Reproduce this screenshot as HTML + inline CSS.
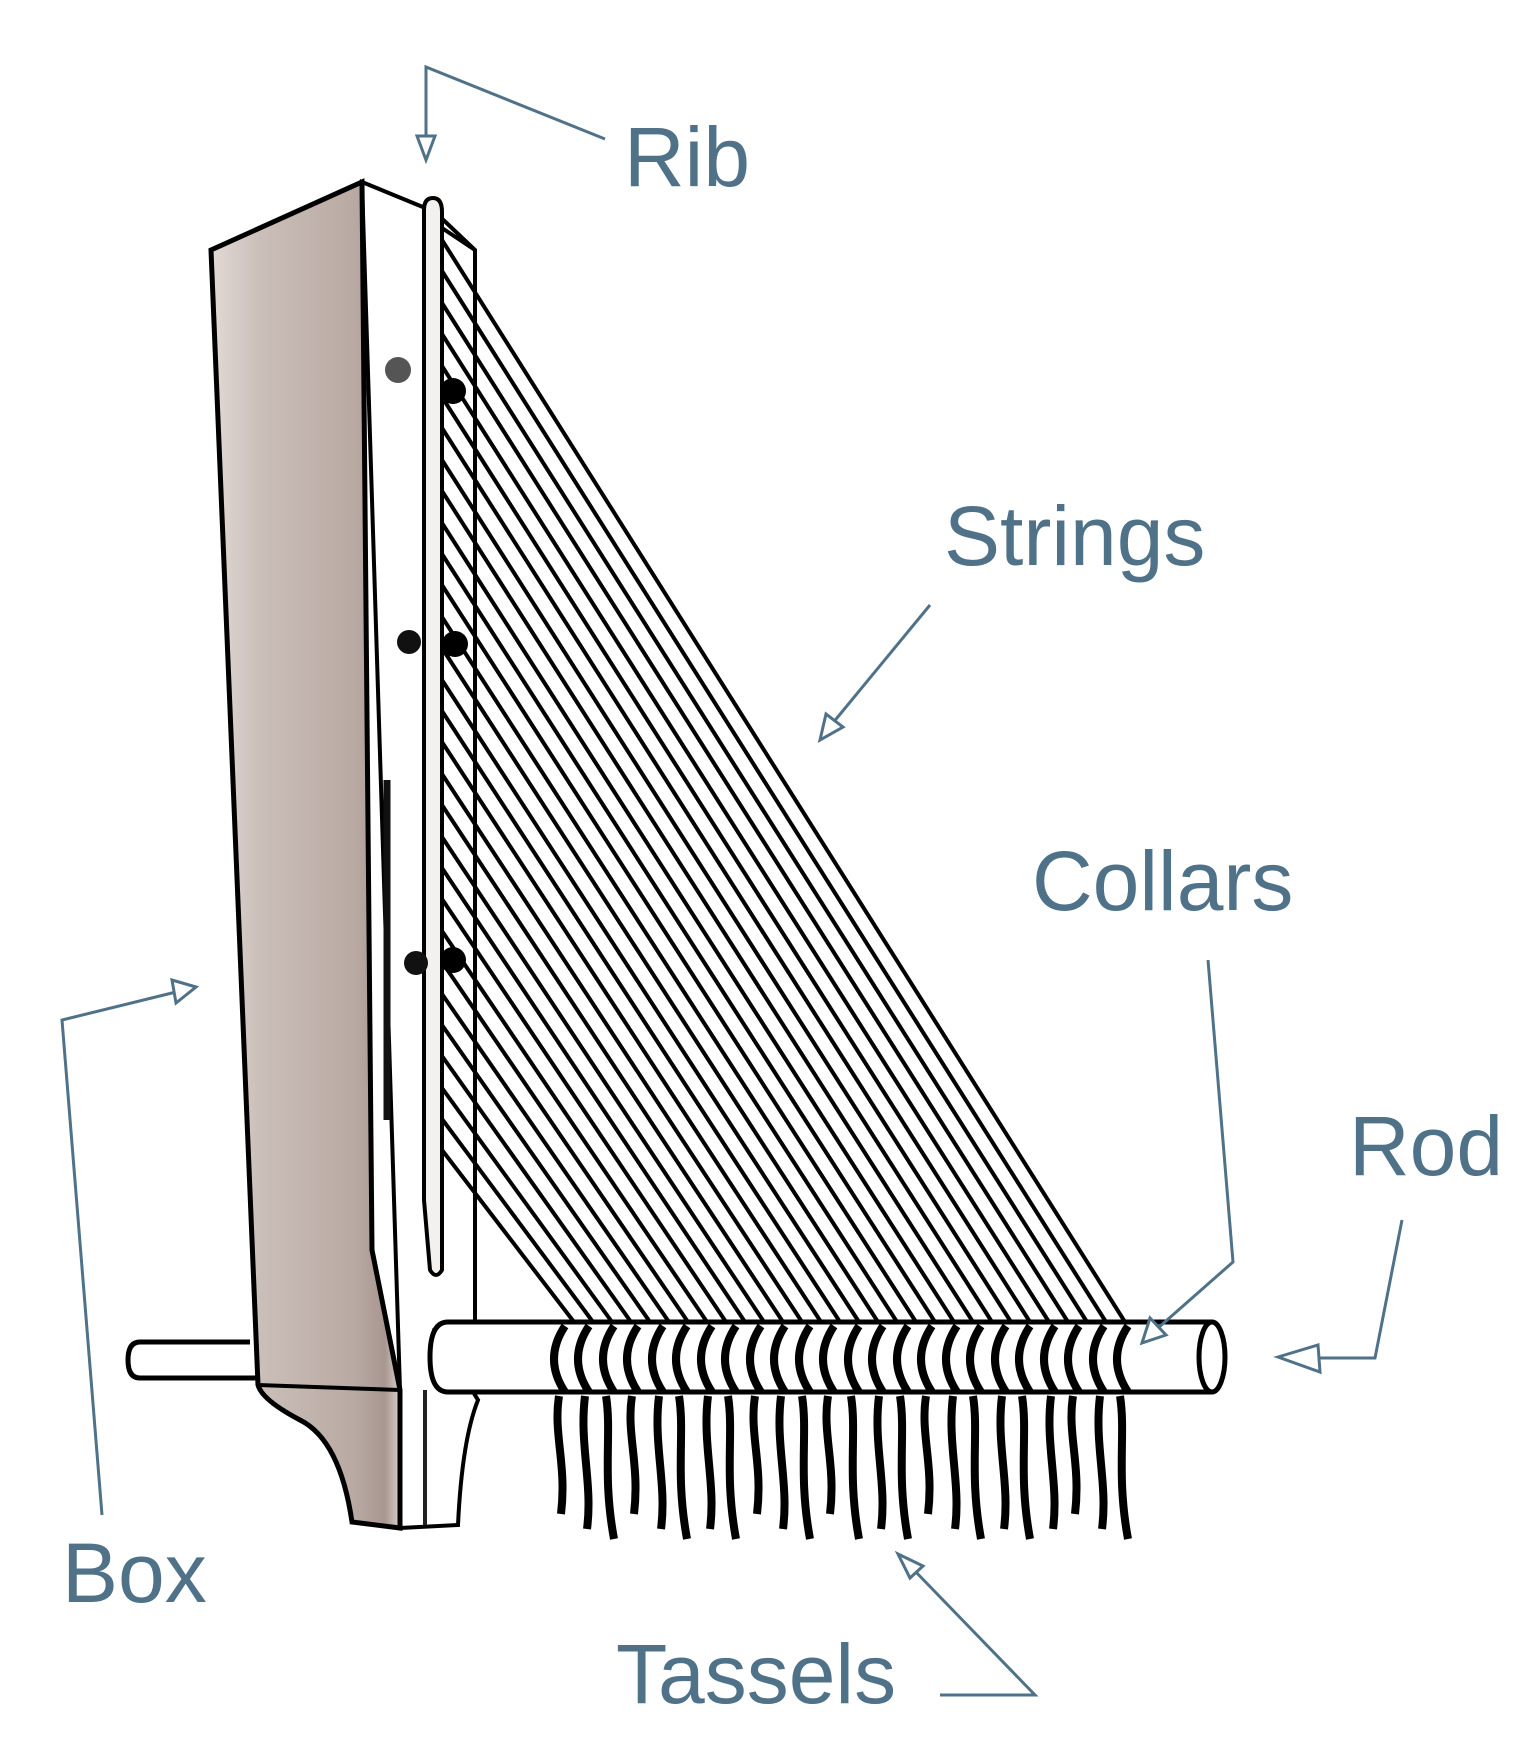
<!DOCTYPE html>
<html><head><meta charset="utf-8"><style>
html,body{margin:0;padding:0;background:#fff;}
svg{display:block;}
text{font-family:"Liberation Sans",sans-serif;fill:#4f7289;font-size:84px;}
</style></head><body>
<svg width="1531" height="1744" viewBox="0 0 1531 1744" xmlns="http://www.w3.org/2000/svg">
<defs>
<linearGradient id="g" x1="0" x2="1" y1="0" y2="0">
<stop offset="0" stop-color="#e2dad6"/>
<stop offset="0.25" stop-color="#cbbfb9"/>
<stop offset="0.75" stop-color="#b9aaa3"/>
<stop offset="0.92" stop-color="#a89790"/>
<stop offset="1" stop-color="#d8cfcb"/>
</linearGradient>
<path id="c" d="M12,2 Q-10,35 12,68" fill="none" stroke="#000" stroke-width="8"/>
<path id="t1" d="M6,72 C0,110 14,140 8,190" fill="none" stroke="#000" stroke-width="8"/>
<path id="t2" d="M4,72 C10,110 0,150 12,215" fill="none" stroke="#000" stroke-width="8"/>
<path id="t3" d="M8,72 C2,120 16,160 10,205" fill="none" stroke="#000" stroke-width="8"/>
</defs>

<path d="M250,1342 L140,1342 Q128,1342 128,1360 Q128,1378 140,1378 L258,1378" fill="#fff" stroke="#000" stroke-width="5"/>

<path d="M362,182 L435,212 L475,250 L475,1322 L435,1330 L478,1400 Q462,1440 458,1525 L400,1528 L400,1390 Z" fill="#fff" stroke="#000" stroke-width="4"/>
<path d="M211,250 L362,182 L372,1250 L400,1390 L400,1528 L352,1522 Q340,1440 300,1420 Q262,1400 258,1385 Z" fill="url(#g)" stroke="#000" stroke-width="5"/>
<line x1="258" y1="1385" x2="400" y2="1390" stroke="#000" stroke-width="4"/>
<line x1="387" y1="780" x2="387" y2="1120" stroke="#111" stroke-width="7"/>
<line x1="425" y1="1390" x2="425" y2="1525" stroke="#222" stroke-width="4"/>

<path d="M424,210 Q424,198 433,198 Q442,198 442,212 L442,1270 Q436,1280 430,1270 L424,1200 Z" fill="#f4f0ee" stroke="#000" stroke-width="4"/>
<line x1="475" y1="250" x2="475" y2="1322" stroke="#000" stroke-width="4"/>
<line x1="442" y1="228" x2="475" y2="250" stroke="#000" stroke-width="4"/>

<circle cx="398" cy="370" r="13" fill="#555"/>
<circle cx="409" cy="642" r="12" fill="#111"/>
<circle cx="416" cy="963" r="12" fill="#111"/>
<circle cx="453" cy="391" r="13" fill="#000"/>
<circle cx="455" cy="644" r="13" fill="#000"/>
<circle cx="453" cy="960" r="13" fill="#000"/>

<g stroke="#000" stroke-width="4">
<line x1="442" y1="240" x2="1125" y2="1322"/>
<line x1="442" y1="271" x2="1106" y2="1322"/>
<line x1="442" y1="303" x2="1087" y2="1322"/>
<line x1="442" y1="334" x2="1068" y2="1322"/>
<line x1="442" y1="366" x2="1049" y2="1322"/>
<line x1="442" y1="397" x2="1030" y2="1322"/>
<line x1="442" y1="428" x2="1011" y2="1322"/>
<line x1="442" y1="460" x2="992" y2="1322"/>
<line x1="442" y1="491" x2="973" y2="1322"/>
<line x1="442" y1="523" x2="954" y2="1322"/>
<line x1="442" y1="554" x2="935" y2="1322"/>
<line x1="442" y1="585" x2="916" y2="1322"/>
<line x1="442" y1="617" x2="897" y2="1322"/>
<line x1="442" y1="648" x2="878" y2="1322"/>
<line x1="442" y1="680" x2="859" y2="1322"/>
<line x1="442" y1="711" x2="840" y2="1322"/>
<line x1="442" y1="742" x2="821" y2="1322"/>
<line x1="442" y1="774" x2="802" y2="1322"/>
<line x1="442" y1="805" x2="783" y2="1322"/>
<line x1="442" y1="837" x2="764" y2="1322"/>
<line x1="442" y1="868" x2="745" y2="1322"/>
<line x1="442" y1="899" x2="726" y2="1322"/>
<line x1="442" y1="931" x2="707" y2="1322"/>
<line x1="442" y1="962" x2="688" y2="1322"/>
<line x1="442" y1="994" x2="669" y2="1322"/>
<line x1="442" y1="1025" x2="650" y2="1322"/>
<line x1="442" y1="1056" x2="631" y2="1322"/>
<line x1="442" y1="1088" x2="612" y2="1322"/>
<line x1="442" y1="1119" x2="593" y2="1322"/>
<line x1="442" y1="1150" x2="574" y2="1322"/>
</g>

<path d="M1212,1322 L448,1322 Q430,1322 430,1357 Q430,1392 448,1392 L1212,1392" fill="#fff" stroke="#000" stroke-width="5"/>
<ellipse cx="1212" cy="1357" rx="13" ry="35" fill="#fff" stroke="#000" stroke-width="5"/>

<g transform="translate(0,1324)">
<use href="#c" x="553"/><use href="#t1" x="553"/>
<use href="#c" x="577"/><use href="#t3" x="577"/>
<use href="#c" x="602"/><use href="#t2" x="602"/>
<use href="#c" x="626"/><use href="#t1" x="626"/>
<use href="#c" x="651"/><use href="#t3" x="651"/>
<use href="#c" x="675"/><use href="#t2" x="675"/>
<use href="#c" x="700"/><use href="#t3" x="700"/>
<use href="#c" x="724"/><use href="#t2" x="724"/>
<use href="#c" x="749"/><use href="#t1" x="749"/>
<use href="#c" x="773"/><use href="#t3" x="773"/>
<use href="#c" x="798"/><use href="#t2" x="798"/>
<use href="#c" x="822"/><use href="#t1" x="822"/>
<use href="#c" x="847"/><use href="#t2" x="847"/>
<use href="#c" x="871"/><use href="#t3" x="871"/>
<use href="#c" x="896"/><use href="#t2" x="896"/>
<use href="#c" x="920"/><use href="#t1" x="920"/>
<use href="#c" x="945"/><use href="#t3" x="945"/>
<use href="#c" x="969"/><use href="#t2" x="969"/>
<use href="#c" x="994"/><use href="#t3" x="994"/>
<use href="#c" x="1018"/><use href="#t2" x="1018"/>
<use href="#c" x="1043"/><use href="#t3" x="1043"/>
<use href="#c" x="1067"/><use href="#t1" x="1067"/>
<use href="#c" x="1092"/><use href="#t3" x="1092"/>
<use href="#c" x="1116"/><use href="#t2" x="1116"/>
</g>

<g fill="#fff" stroke="#4f7289" stroke-width="3">
<polyline points="605,139 426,67 426,140" fill="none"/>
<polygon points="426,160 417,136 435,136"/>
<line x1="930" y1="605" x2="832" y2="724"/>
<polygon points="820,740 826,714 843,727"/>
<polyline points="1208,960 1233,1262 1158,1328" fill="none"/>
<polygon points="1142,1343 1150,1318 1166,1335"/>
<polyline points="1402,1220 1375,1358 1300,1358" fill="none"/>
<polygon points="1278,1357 1318,1345 1320,1372"/>
<polyline points="102,1515 62,1020 176,992" fill="none"/>
<polygon points="196,987 172,980 176,1003"/>
<polyline points="940,1695 1035,1695 912,1568" fill="none"/>
<polygon points="898,1554 923,1566 910,1578"/>
</g>

<text x="624" y="186">Rib</text>
<text x="944" y="565">Strings</text>
<text x="1032" y="910">Collars</text>
<text x="1349" y="1175">Rod</text>
<text x="62" y="1602">Box</text>
<text x="616" y="1703">Tassels</text>
</svg>
</body></html>
